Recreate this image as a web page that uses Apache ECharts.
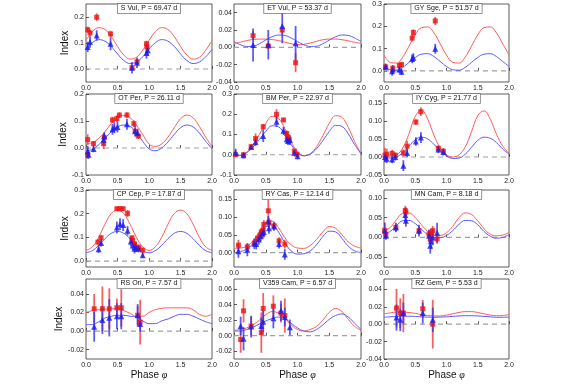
<!DOCTYPE html>
<html><head><meta charset="utf-8">
<script src="https://cdn.jsdelivr.net/npm/echarts@6/dist/echarts.min.js"></script>
<style>html,body{margin:0;padding:0;background:#fff}#c{width:576px;height:384px}</style>
</head><body><div id="c"></div>
<script>
// ---------- DATA ----------
const phaseGrid = [0,0.1,0.2,0.3,0.4,0.5,0.6,0.7,0.8,0.9,1.0,1.1,1.2,1.3,1.4,1.5,1.6,1.7,1.8,1.9,2.0];
const xTickLabels = ['0.0','0.5','1.0','1.5','2.0'];
const panelTitles = ['S Vul, P = 69.47 d','ET Vul, P = 53.37 d','GY Sge, P = 51.57 d',
  'OT Per, P = 26.11 d','BM Per, P = 22.97 d','IY Cyg, P = 21.77 d',
  'CP Cep, P = 17.87 d','RY Cas, P = 12.14 d','MN Cam, P = 8.18 d',
  'RS Ori, P = 7.57 d','V359 Cam, P = 6.57 d','RZ Gem, P = 5.53 d'];

// S Vul
const sVulYTicks = ['0.0','0.1','0.2'];
const sVulRedFit  = [0.110,0.143,0.159,0.152,0.125,0.087,0.054,0.038,0.045,0.072,0.110,0.143,0.159,0.152,0.125,0.087,0.054,0.038,0.045,0.072,0.110];
const sVulBlueFit = [0.076,0.101,0.113,0.107,0.087,0.058,0.033,0.021,0.027,0.047,0.076,0.101,0.113,0.107,0.087,0.058,0.033,0.021,0.027,0.047,0.076];
const sVulRed  = [[0.027,0.151,0.012],[0.064,0.139,0.012],[0.17,0.199,0.015],[0.39,0.135,0.012],[0.73,0.005,0.01],[0.81,0.028,0.01],[0.96,0.097,0.012],[0.97,0.085,0.01]];
const sVulBlue = [[0.027,0.085,0.02],[0.064,0.104,0.022],[0.17,0.129,0.02],[0.39,0.097,0.025],[0.73,0.005,0.022],[0.81,0.024,0.02],[0.96,0.062,0.022],[0.98,0.072,0.02]];

// ET Vul
const etVulYTicks = ['-0.04','-0.02','0.00','0.02','0.04'];
const etVulRedFit  = [0.0045,0.006,0.0078,0.009,0.0095,0.0095,0.009,0.0078,0.006,0.0042,0.003,0.0035,0.005,0.007,0.0088,0.0095,0.0095,0.0088,0.0075,0.0058,0.0045];
const etVulBlueFit = [0.0065,0.003,0.001,0.0013,0.0042,0.0084,0.0122,0.0142,0.0137,0.0108,0.0067,0.003,0.001,0.0013,0.0042,0.0084,0.0122,0.0142,0.0137,0.0108,0.0067];
const etVulRed  = [[0.30,0.0135,0.005],[0.54,0.0015,0.003],[0.76,0.020,0.005],[0.97,-0.0177,0.011]];
const etVulBlue = [[0.30,0.0027,0.019],[0.54,0.003,0.017],[0.76,0.0246,0.02],[0.97,0.0046,0.02]];

// GY Sge
const gySgeYTicks = ['0.0','0.1','0.2','0.3'];
const gySgeRedFit  = [0.071,0.038,0.035,0.062,0.111,0.161,0.194,0.197,0.170,0.121,0.071,0.038,0.035,0.062,0.111,0.161,0.194,0.197,0.170,0.121,0.071];
const gySgeBlueFit = [0.020,0.005,0.003,0.016,0.038,0.060,0.075,0.077,0.064,0.042,0.020,0.005,0.003,0.016,0.038,0.060,0.075,0.077,0.064,0.042,0.020];
const gySgeRed  = [[0.027,0.018,0.01],[0.14,0.012,0.008],[0.245,0.024,0.01],[0.28,0.028,0.01],[0.45,0.147,0.015],[0.47,0.172,0.015],[0.82,0.224,0.018]];
const gySgeBlue = [[0.027,0.018,0.015],[0.13,-0.002,0.02],[0.14,0.006,0.02],[0.245,0.006,0.015],[0.28,-0.004,0.015],[0.45,0.054,0.02],[0.47,0.059,0.02],[0.82,0.099,0.022]];

// OT Per
const otPerYTicks = ['-0.1','0.0','0.1','0.2'];
const otPerRedFit  = [0.015,0.02,0.035,0.06,0.09,0.112,0.12,0.112,0.085,0.05,0.015,0.006,0.015,0.04,0.075,0.108,0.122,0.112,0.08,0.04,0.005];
const otPerBlueFit = [-0.01,-0.005,0.012,0.035,0.06,0.078,0.085,0.08,0.058,0.025,-0.003,-0.01,0.0,0.022,0.05,0.075,0.085,0.078,0.055,0.025,-0.003];
const otPerRed  = [[0.027,0.031,0.02],[0.027,-0.025,0.015],[0.12,0.016,0.01],[0.28,0.016,0.02],[0.29,0.038,0.012],[0.42,0.104,0.012],[0.49,0.109,0.012],[0.53,0.122,0.01],[0.65,0.122,0.01],[0.76,0.09,0.012],[0.78,0.062,0.01],[0.83,0.044,0.01]];
const otPerBlue = [[0.027,-0.012,0.02],[0.04,-0.025,0.015],[0.12,-0.004,0.012],[0.28,0.031,0.02],[0.29,0.044,0.015],[0.42,0.069,0.02],[0.45,0.075,0.02],[0.5,0.078,0.02],[0.65,0.088,0.02],[0.78,0.062,0.02],[0.82,0.056,0.015]];

// BM Per
const bmPerYTicks = ['-0.1','0.0','0.1','0.2','0.3'];
const bmPerRedFit  = [0.0,-0.003,0.012,0.05,0.1,0.155,0.19,0.18,0.13,0.065,0.015,-0.005,0.005,0.04,0.095,0.155,0.193,0.185,0.135,0.065,0.005];
const bmPerBlueFit = [0.0,-0.003,0.01,0.038,0.075,0.115,0.143,0.138,0.1,0.05,0.01,-0.005,0.003,0.03,0.07,0.115,0.145,0.14,0.103,0.05,0.005];
const bmPerRed  = [[0.026,0.0,0.01],[0.15,0.0,0.008],[0.27,0.04,0.01],[0.34,0.08,0.025],[0.46,0.138,0.015],[0.67,0.2,0.025],[0.78,0.172,0.01],[0.83,0.105,0.015],[0.84,0.088,0.015],[0.87,0.077,0.015],[0.95,0.018,0.01],[0.99,0.002,0.008]];
const bmPerBlue = [[0.026,0.01,0.02],[0.15,-0.003,0.015],[0.27,0.038,0.01],[0.34,0.063,0.02],[0.46,0.093,0.03],[0.67,0.163,0.025],[0.78,0.118,0.02],[0.83,0.077,0.02],[0.85,0.068,0.02],[0.88,0.073,0.025],[0.95,0.01,0.015],[1.0,-0.007,0.015]];

// IY Cyg
const iyCygYTicks = ['-0.05','0.00','0.05','0.10','0.15'];
const iyCygRedFit  = [0.004,0.0,0.005,0.025,0.065,0.113,0.13,0.105,0.06,0.025,0.006,0.0,0.006,0.028,0.07,0.115,0.128,0.105,0.063,0.03,0.01];
const iyCygBlueFit = [0.0,-0.003,0.0,0.012,0.03,0.048,0.055,0.05,0.035,0.018,0.003,-0.004,-0.003,0.008,0.027,0.046,0.055,0.052,0.04,0.022,0.008];
const iyCygRed  = [[0.016,0.005,0.02],[0.043,0.008,0.015],[0.13,0.01,0.01],[0.18,0.005,0.008],[0.31,0.011,0.01],[0.37,0.03,0.015],[0.51,0.097,0.008],[0.59,0.126,0.012],[0.87,0.024,0.008],[0.95,0.016,0.008]];
const iyCygBlue = [[0.016,0.0,0.012],[0.043,-0.005,0.012],[0.13,-0.007,0.01],[0.18,0.0,0.01],[0.31,-0.024,0.015],[0.37,0.011,0.012],[0.51,0.043,0.012],[0.59,0.054,0.015],[0.87,0.021,0.01],[0.95,0.014,0.01]];

// CP Cep
const cpCepYTicks = ['0.0','0.1','0.2','0.3'];
const cpCepRedFit  = [0.045,0.06,0.1,0.155,0.2,0.215,0.2,0.155,0.1,0.06,0.045,0.06,0.1,0.155,0.2,0.215,0.2,0.155,0.1,0.06,0.045];
const cpCepBlueFit = [0.035,0.044,0.066,0.094,0.117,0.125,0.117,0.094,0.066,0.044,0.035,0.044,0.066,0.094,0.117,0.125,0.117,0.094,0.066,0.044,0.035];
const cpCepRed  = [[0.19,0.08,0.012],[0.24,0.098,0.012],[0.49,0.221,0.008],[0.54,0.221,0.008],[0.59,0.221,0.008],[0.66,0.201,0.015],[0.73,0.098,0.01],[0.74,0.087,0.01],[0.77,0.073,0.01],[0.83,0.059,0.01],[0.84,0.052,0.01],[0.9,0.046,0.01]];
const cpCepBlue = [[0.2,0.05,0.015],[0.24,0.076,0.015],[0.49,0.142,0.025],[0.54,0.156,0.025],[0.59,0.152,0.025],[0.66,0.128,0.02],[0.71,0.083,0.02],[0.74,0.066,0.02],[0.77,0.052,0.02],[0.79,0.059,0.02],[0.83,0.052,0.015],[0.9,0.025,0.012]];

// RY Cas
const ryCasYTicks = ['0.00','0.05','0.10','0.15'];
const ryCasRedFit  = [0.012,0.013,0.018,0.033,0.058,0.085,0.088,0.07,0.042,0.022,0.013,0.012,0.02,0.037,0.058,0.073,0.068,0.05,0.03,0.018,0.013];
const ryCasBlueFit = [0.0,0.003,0.01,0.025,0.048,0.072,0.077,0.058,0.028,0.005,-0.004,-0.003,0.005,0.022,0.045,0.06,0.058,0.04,0.018,0.005,0.0];
const ryCasRed  = [[0.07,0.021,0.015],[0.21,0.016,0.01],[0.32,0.027,0.01],[0.37,0.04,0.01],[0.41,0.049,0.01],[0.43,0.058,0.01],[0.46,0.063,0.01],[0.47,0.079,0.012],[0.54,0.117,0.03],[0.55,0.085,0.012],[0.63,0.075,0.01],[0.71,0.033,0.01],[0.8,0.024,0.012]];
const ryCasBlue = [[0.07,0.004,0.018],[0.21,0.008,0.018],[0.32,0.025,0.015],[0.35,0.024,0.015],[0.39,0.037,0.015],[0.42,0.046,0.015],[0.45,0.054,0.015],[0.47,0.058,0.015],[0.54,0.087,0.015],[0.55,0.068,0.015],[0.63,0.073,0.012],[0.71,0.024,0.012],[0.8,-0.005,0.015]];

// MN Cam
const mnCamYTicks = ['-0.05','0.00','0.05','0.10'];
const mnCamRedFit  = [0.018,0.025,0.045,0.061,0.062,0.05,0.032,0.015,0.006,0.005,0.012,0.028,0.05,0.062,0.058,0.042,0.022,0.008,0.004,0.006,0.012];
const mnCamBlueFit = [0.01,0.015,0.03,0.042,0.043,0.035,0.02,0.007,0.0,-0.001,0.005,0.017,0.033,0.043,0.042,0.032,0.015,0.003,-0.002,0.0,0.007];
const mnCamRed  = [[0.01,0.018,0.02],[0.03,0.008,0.01],[0.19,0.025,0.01],[0.34,0.068,0.012],[0.35,0.064,0.012],[0.56,0.017,0.01],[0.72,0.008,0.012],[0.74,-0.004,0.012],[0.75,0.01,0.012],[0.78,0.017,0.012],[0.85,-0.004,0.012]];
const mnCamBlue = [[0.01,0.017,0.02],[0.03,0.004,0.01],[0.19,0.025,0.012],[0.34,0.057,0.018],[0.35,0.042,0.015],[0.56,0.017,0.015],[0.72,0.004,0.015],[0.74,-0.021,0.02],[0.75,-0.01,0.02],[0.78,0.0,0.02],[0.85,0.012,0.025]];

// RS Ori
const rsOriYTicks = ['-0.02','0.00','0.02','0.04'];
const rsOriRedFit  = [0.02,0.022,0.023,0.0235,0.024,0.024,0.022,0.019,0.016,0.016,0.02,0.023,0.0245,0.025,0.025,0.025,0.025,0.023,0.018,0.016,0.018];
const rsOriBlueFit = [0.007,0.007,0.01,0.014,0.016,0.017,0.017,0.016,0.015,0.011,0.008,0.008,0.011,0.013,0.016,0.018,0.018,0.016,0.013,0.01,0.008];
const rsOriRed  = [[0.13,0.024,0.016],[0.26,0.024,0.024],[0.37,0.024,0.022],[0.49,0.025,0.01],[0.56,0.025,0.02],[0.82,0.017,0.01],[0.86,0.0096,0.024]];
const rsOriBlue = [[0.13,0.0046,0.016],[0.26,0.0118,0.015],[0.37,0.0143,0.02],[0.49,0.016,0.014],[0.56,0.016,0.014],[0.82,0.017,0.012],[0.86,0.0075,0.008]];

// V359 Cam
const v359CamYTicks = ['-0.02','0.00','0.02','0.04','0.06'];
const v359CamRedFit  = [0.007,0.008,0.01,0.014,0.02,0.027,0.031,0.029,0.022,0.014,0.008,0.006,0.008,0.012,0.02,0.03,0.035,0.031,0.021,0.012,0.007];
const v359CamBlueFit = [0.006,0.006,0.008,0.011,0.015,0.019,0.022,0.024,0.022,0.016,0.01,0.006,0.005,0.008,0.014,0.021,0.026,0.028,0.024,0.016,0.008];
const v359CamRed  = [[0.105,-0.005,0.017],[0.15,0.032,0.015],[0.27,0.0125,0.012],[0.43,0.004,0.026],[0.46,0.035,0.02],[0.62,0.038,0.014],[0.74,0.029,0.012],[0.8,0.026,0.022]];
const v359CamBlue = [[0.105,0.0125,0.012],[0.15,-0.004,0.015],[0.27,0.0117,0.014],[0.43,0.0125,0.011],[0.46,0.018,0.014],[0.62,0.0225,0.013],[0.74,0.032,0.013],[0.8,0.024,0.012],[0.88,0.0108,0.01]];

// RZ Gem
const rzGemYTicks = ['-0.04','-0.02','0.00','0.02','0.04'];
const rzGemRedFit  = [0.012,0.013,0.014,0.014,0.0135,0.0125,0.011,0.010,0.0095,0.0095,0.0105,0.012,0.0135,0.0145,0.0145,0.0135,0.012,0.0105,0.0098,0.01,0.011];
const rzGemBlueFit = [0.008,0.0085,0.009,0.0092,0.0092,0.009,0.0085,0.0082,0.008,0.0082,0.0085,0.009,0.0095,0.0098,0.0098,0.0095,0.009,0.0085,0.008,0.008,0.0082];
const rzGemRed  = [[0.2,0.0186,0.022],[0.26,0.0128,0.017],[0.31,0.0128,0.022],[0.62,0.0178,0.01],[0.78,0.0,0.028]];
const rzGemBlue = [[0.2,0.0077,0.015],[0.26,0.005,0.013],[0.31,0.0128,0.012],[0.62,0.0128,0.012],[0.78,0.005,0.014]];

// ---------- PANELS (data refs + axis ranges) ----------
const panels = [
  {yMin:-0.05, yMax:0.25,  ticks:sVulYTicks,   rf:sVulRedFit,   bf:sVulBlueFit,   r:sVulRed,   b:sVulBlue},
  {yMin:-0.04, yMax:0.05,  ticks:etVulYTicks,  rf:etVulRedFit,  bf:etVulBlueFit,  r:etVulRed,  b:etVulBlue},
  {yMin:-0.05, yMax:0.3,   ticks:gySgeYTicks,  rf:gySgeRedFit,  bf:gySgeBlueFit,  r:gySgeRed,  b:gySgeBlue},
  {yMin:-0.1,  yMax:0.2,   ticks:otPerYTicks,  rf:otPerRedFit,  bf:otPerBlueFit,  r:otPerRed,  b:otPerBlue},
  {yMin:-0.1,  yMax:0.3,   ticks:bmPerYTicks,  rf:bmPerRedFit,  bf:bmPerBlueFit,  r:bmPerRed,  b:bmPerBlue},
  {yMin:-0.05, yMax:0.175, ticks:iyCygYTicks,  rf:iyCygRedFit,  bf:iyCygBlueFit,  r:iyCygRed,  b:iyCygBlue},
  {yMin:-0.025,yMax:0.3,   ticks:cpCepYTicks,  rf:cpCepRedFit,  bf:cpCepBlueFit,  r:cpCepRed,  b:cpCepBlue},
  {yMin:-0.04, yMax:0.175, ticks:ryCasYTicks,  rf:ryCasRedFit,  bf:ryCasBlueFit,  r:ryCasRed,  b:ryCasBlue},
  {yMin:-0.075,yMax:0.12,  ticks:mnCamYTicks,  rf:mnCamRedFit,  bf:mnCamBlueFit,  r:mnCamRed,  b:mnCamBlue},
  {yMin:-0.03, yMax:0.056, ticks:rsOriYTicks,  rf:rsOriRedFit,  bf:rsOriBlueFit,  r:rsOriRed,  b:rsOriBlue},
  {yMin:-0.03, yMax:0.073, ticks:v359CamYTicks,rf:v359CamRedFit,bf:v359CamBlueFit,r:v359CamRed,b:v359CamBlue},
  {yMin:-0.04, yMax:0.052, ticks:rzGemYTicks,  rf:rzGemRedFit,  bf:rzGemBlueFit,  r:rzGemRed,  b:rzGemBlue}
];

// ---------- LAYOUT ----------
const colLeft = [86, 234, 384], colWidth = [126, 127, 125];
const rowTop = [4, 94, 190, 279], rowHeight = [78, 81, 77, 80];
const FONT = '"Liberation Sans", Arial, sans-serif';
const RED = '#ee1111', BLUE = '#1a1aee';

function labelFor(v, vals, labels) {
  let best = 0, d = Infinity;
  vals.forEach((t, k) => { const dd = Math.abs(t - v); if (dd < d) { d = dd; best = k; } });
  return d < 1e-9 ? labels[best] : '';
}
function errSeries(i, pts, color) {
  return {
    type: 'custom', xAxisIndex: i, yAxisIndex: i, clip: true, z: 3,
    data: pts,
    renderItem: (params, api) => {
      const x = api.value(0), y = api.value(1), e = api.value(2);
      const a = api.coord([x, y - e]), b = api.coord([x, y + e]);
      return { type: 'line', shape: { x1: a[0], y1: a[1], x2: b[0], y2: b[1] },
               style: { stroke: color, lineWidth: 1.8 } };
    }
  };
}

const grids = [], xAxes = [], yAxes = [], series = [], graphics = [];
const xTickVals = xTickLabels.map(parseFloat);
panels.forEach((p, i) => {
  const row = Math.floor(i / 3), col = i % 3;
  grids.push({ left: colLeft[col], top: rowTop[row], width: colWidth[col], height: rowHeight[row],
               show: true, borderColor: '#333', borderWidth: 0.8, containLabel: false });
  xAxes.push({
    type: 'value', gridIndex: i, min: 0, max: 2,
    axisLine: { show: false }, splitLine: { show: false },
    axisTick: { show: true, inside: true, length: 3, lineStyle: { color: '#333', width: 0.8 }, customValues: xTickVals },
    axisLabel: { customValues: xTickVals, formatter: v => labelFor(v, xTickVals, xTickLabels),
                 fontSize: 7, color: '#222', margin: 3, fontFamily: FONT },
    name: row === 3 ? '{n|Phase }{p|φ}' : '', nameLocation: 'middle', nameGap: 11,
    nameTextStyle: { rich: { n: { fontSize: 10, fontFamily: FONT, color: '#111' },
                             p: { fontSize: 10, fontStyle: 'italic', fontFamily: '"Liberation Serif", serif', color: '#111' } } }
  });
  const tv = p.ticks.map(parseFloat);
  yAxes.push({
    type: 'value', gridIndex: i, min: p.yMin, max: p.yMax,
    axisLine: { show: false }, splitLine: { show: false },
    axisTick: { show: true, inside: true, length: 3, lineStyle: { color: '#333', width: 0.8 }, customValues: tv },
    axisLabel: { customValues: tv, formatter: v => labelFor(v, tv, p.ticks),
                 fontSize: 7, color: '#222', margin: 2, fontFamily: FONT },
    name: col === 0 ? 'Index' : '', nameLocation: 'middle', nameGap: 10, nameRotate: 90,
    nameTextStyle: { fontSize: 10, fontFamily: FONT, color: '#111' }
  });
  series.push({ type: 'line', xAxisIndex: i, yAxisIndex: i, data: [[0, 0], [2, 0]], symbol: 'none', silent: true, z: 1,
                lineStyle: { color: '#a0a0a0', width: 1.2, type: [5, 4] } });
  series.push({ type: 'line', xAxisIndex: i, yAxisIndex: i, data: phaseGrid.map((x, k) => [x, p.rf[k]]),
                smooth: 0.4, symbol: 'none', z: 2, lineStyle: { color: '#ff5a5a', width: 1 } });
  series.push({ type: 'line', xAxisIndex: i, yAxisIndex: i, data: phaseGrid.map((x, k) => [x, p.bf[k]]),
                smooth: 0.4, symbol: 'none', z: 2, lineStyle: { color: '#5a5aff', width: 1 } });
  series.push(errSeries(i, p.r, 'rgba(240,60,60,0.8)'));
  series.push(errSeries(i, p.b, 'rgba(50,50,240,0.8)'));
  series.push({ type: 'scatter', xAxisIndex: i, yAxisIndex: i, data: p.r.map(d => [d[0], d[1]]),
                symbol: 'rect', symbolSize: 5, itemStyle: { color: RED }, z: 4 });
  series.push({ type: 'scatter', xAxisIndex: i, yAxisIndex: i, data: p.b.map(d => [d[0], d[1]]),
                symbol: 'triangle', symbolSize: 6, itemStyle: { color: BLUE }, z: 5 });
  graphics.push({
    type: 'text', z: 100,
    x: colLeft[col] + colWidth[col] / 2, y: rowTop[row],
    style: { text: panelTitles[i], font: '7px ' + FONT, fill: '#111', align: 'center', verticalAlign: 'top',
             backgroundColor: '#fff', borderColor: '#777', borderWidth: 0.8, padding: [1, 3, 1, 3] }
  });
});

const chart = echarts.init(document.getElementById('c'), null, { renderer: 'canvas' });
chart.setOption({
  animation: false, backgroundColor: '#fff',
  grid: grids, xAxis: xAxes, yAxis: yAxes, series: series, graphic: graphics
});
</script></body></html>
